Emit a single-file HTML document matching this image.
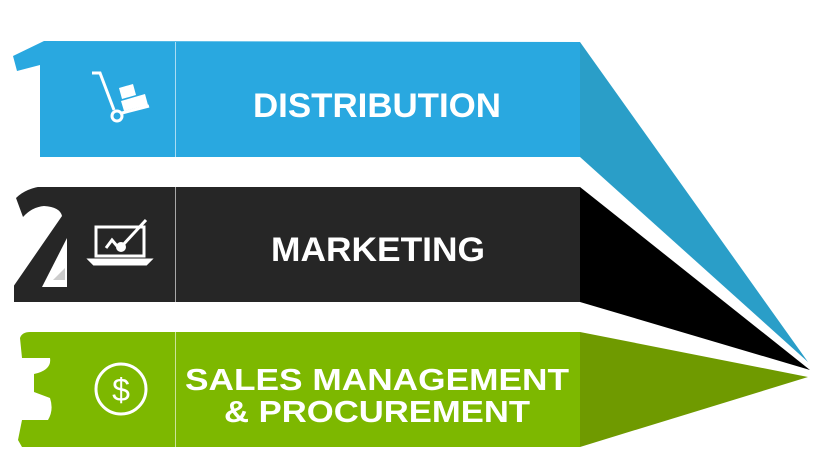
<!DOCTYPE html>
<html><head><style>html,body{margin:0;padding:0;background:#fff;width:820px;height:473px;overflow:hidden}</style></head>
<body>
<svg width="820" height="473" viewBox="0 0 820 473" xmlns="http://www.w3.org/2000/svg" font-family="Liberation Sans, sans-serif" font-weight="bold">
<!-- triangles -->
<polygon points="580,42 580,157 808,362" fill="#2a9ec8"/>
<polygon points="580,187 580,302 810,370" fill="#000"/>
<polygon points="580,332 580,447 808,377" fill="#6f9a00"/>
<!-- band 1 with digit 1 -->
<polygon points="13,56 44,41 580,42 580,157 40,157 40,65 17,71" fill="#29a8e0"/>
<!-- band 2 with digit 2 cut-outs -->
<rect x="14" y="187" width="566" height="115" fill="#262626"/>
<path d="M13,186 L44,186 Q26,188 16,198 L23,217 Q32,207 44,206 Q60,207 62,216 L13,287 Z" fill="#fff"/>
<path d="M67,238 L67,287 L42,287 Z" fill="#fff"/>
<polygon points="53,280 65,268 65,280" fill="#ccc"/>
<!-- band 3 with digit 3 -->
<path d="M20,338 Q22,332 30,332 L580,332 L580,447 L22,447 L18,440 L22,420 L48,420 Q54,410 50,398 L34,392 L34,374 Q52,370 50,358 L22,358 Z" fill="#7db800"/>
<!-- dividers -->
<line x1="175.5" y1="42" x2="175.5" y2="157" stroke="#fff" stroke-opacity="0.6"/>
<line x1="175.5" y1="187" x2="175.5" y2="302" stroke="#fff" stroke-opacity="0.6"/>
<line x1="175.5" y1="332" x2="175.5" y2="447" stroke="#fff" stroke-opacity="0.6"/>
<!-- icons -->
<g stroke="#fff" fill="none" stroke-width="3">
<path d="M92,73 L100,73 L114,110"/>
<circle cx="117" cy="116" r="5"/>
<line x1="122" y1="113" x2="149" y2="106"/>
</g>
<g fill="#fff">
<polygon points="119,88 133,84 136,95 122,99"/>
<polygon points="121,101 145,94 148,105 124,111"/>
</g>
<g stroke="#fff" fill="none" stroke-width="3">
<rect x="96" y="227" width="48" height="29"/>
<path d="M90,260 L150,260 L146,264 L94,264 Z" fill="#fff"/>
<polyline points="106,248 112,240 117,246"/>
<line x1="122" y1="246" x2="146" y2="220"/>
</g>
<circle cx="121" cy="247" r="5" fill="#fff"/>
<circle cx="121" cy="389" r="25" stroke="#fff" stroke-width="3" fill="none"/>
<text x="121" y="401" font-size="32" font-weight="normal" fill="#fff" text-anchor="middle">$</text>
<!-- labels -->
<text x="377" y="117" font-size="34" fill="#fff" text-anchor="middle" textLength="248" lengthAdjust="spacingAndGlyphs">DISTRIBUTION</text>
<text x="378" y="261" font-size="34" fill="#fff" text-anchor="middle" textLength="214" lengthAdjust="spacingAndGlyphs">MARKETING</text>
<text x="377" y="390" font-size="31" fill="#fff" text-anchor="middle" textLength="384" lengthAdjust="spacingAndGlyphs">SALES MANAGEMENT</text>
<text x="377" y="422" font-size="31" fill="#fff" text-anchor="middle" textLength="306" lengthAdjust="spacingAndGlyphs">&amp; PROCUREMENT</text>
</svg>
</body></html>
